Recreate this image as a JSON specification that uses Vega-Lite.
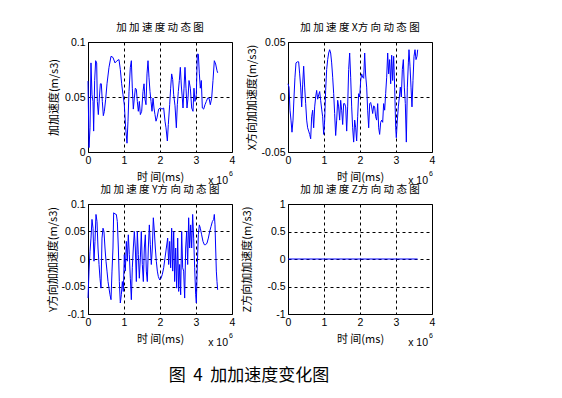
{
  "$schema": "https://vega.github.io/schema/vega-lite/v6.json",
  "background": "white",
  "autosize": {"type": "pad"},
  "padding": {"left": 46, "top": 22, "right": 5, "bottom": 5},
  "title": {"text": "图\u00a0\u00a04\u00a0\u00a0加加速度变化图", "orient": "bottom", "anchor": "middle", "font": "Noto Sans CJK SC", "fontSize": 17, "fontWeight": "normal", "color": "#000000", "offset": 19, "dx": 8},
  "config": {
    "view": {"stroke": "#000000", "strokeWidth": 1},
    "axis": {"grid": true, "gridColor": "#000000", "gridDash": [3, 3], "gridOpacity": 1, "gridWidth": 1, "domain": false, "ticks": false, "labelFont": "Liberation Sans", "labelFontSize": 10.5, "labelColor": "#000000", "labelFlush": false, "labelOverlap": false, "labelPadding": 3, "titleFont": "Noto Sans CJK SC", "titleFontSize": 11, "titleFontWeight": "normal", "titleColor": "#000000"},
    "title": {"font": "Noto Sans CJK SC", "fontSize": 10.5, "fontWeight": "normal", "color": "#000000", "offset": 4}
  },
  "datasets": {
    "p1": [
      {"t":0,"v":0.0645},{"t":0.028,"v":0.004},{"t":0.056,"v":0.022},{"t":0.083,"v":0.081},{"t":0.111,"v":0.052},{"t":0.139,"v":0.046},{"t":0.157,"v":0.019},{"t":0.185,"v":0.065},{"t":0.213,"v":0.083},{"t":0.241,"v":0.081},{"t":0.259,"v":0.046},{"t":0.287,"v":0.034},{"t":0.315,"v":0.049},{"t":0.343,"v":0.062},{"t":0.37,"v":0.062},{"t":0.398,"v":0.046},{"t":0.426,"v":0.033},{"t":0.454,"v":0.037},{"t":0.491,"v":0.048},{"t":0.528,"v":0.062},{"t":0.583,"v":0.077},{"t":0.639,"v":0.087},{"t":0.694,"v":0.086},{"t":0.75,"v":0.081},{"t":0.806,"v":0.083},{"t":0.861,"v":0.084},{"t":0.898,"v":0.075},{"t":0.935,"v":0.062},{"t":0.972,"v":0.052},{"t":1.009,"v":0.043},{"t":1.046,"v":0.022},{"t":1.083,"v":0.008},{"t":1.111,"v":0.028},{"t":1.139,"v":0.055},{"t":1.176,"v":0.077},{"t":1.204,"v":0.083},{"t":1.231,"v":0.058},{"t":1.259,"v":0.039},{"t":1.287,"v":0.049},{"t":1.315,"v":0.058},{"t":1.343,"v":0.057},{"t":1.37,"v":0.046},{"t":1.398,"v":0.037},{"t":1.426,"v":0.046},{"t":1.454,"v":0.034},{"t":1.491,"v":0.037},{"t":1.528,"v":0.055},{"t":1.556,"v":0.062},{"t":1.583,"v":0.048},{"t":1.611,"v":0.043},{"t":1.639,"v":0.071},{"t":1.667,"v":0.083},{"t":1.694,"v":0.068},{"t":1.722,"v":0.055},{"t":1.75,"v":0.046},{"t":1.778,"v":0.037},{"t":1.806,"v":0.049},{"t":1.833,"v":0.04},{"t":1.861,"v":0.034},{"t":1.889,"v":0.028},{"t":1.917,"v":0.031},{"t":1.963,"v":0.039},{"t":2.009,"v":0.04},{"t":2.056,"v":0.039},{"t":2.102,"v":0.04},{"t":2.139,"v":0.028},{"t":2.167,"v":0.022},{"t":2.204,"v":0.01},{"t":2.231,"v":0.025},{"t":2.269,"v":0.043},{"t":2.296,"v":0.058},{"t":2.324,"v":0.071},{"t":2.352,"v":0.066},{"t":2.38,"v":0.052},{"t":2.417,"v":0.042},{"t":2.454,"v":0.022},{"t":2.481,"v":0.043},{"t":2.509,"v":0.055},{"t":2.537,"v":0.065},{"t":2.565,"v":0.077},{"t":2.593,"v":0.06},{"t":2.62,"v":0.049},{"t":2.639,"v":0.04},{"t":2.667,"v":0.058},{"t":2.694,"v":0.077},{"t":2.722,"v":0.058},{"t":2.75,"v":0.04},{"t":2.778,"v":0.049},{"t":2.806,"v":0.065},{"t":2.843,"v":0.058},{"t":2.88,"v":0.04},{"t":2.917,"v":0.037},{"t":2.944,"v":0.058},{"t":2.972,"v":0.046},{"t":3.009,"v":0.052},{"t":3.037,"v":0.089},{"t":3.065,"v":0.089},{"t":3.093,"v":0.071},{"t":3.12,"v":0.058},{"t":3.148,"v":0.065},{"t":3.176,"v":0.04},{"t":3.213,"v":0.039},{"t":3.25,"v":0.043},{"t":3.287,"v":0.046},{"t":3.324,"v":0.049},{"t":3.361,"v":0.049},{"t":3.398,"v":0.043},{"t":3.435,"v":0.049},{"t":3.472,"v":0.065},{"t":3.509,"v":0.083},{"t":3.546,"v":0.08},{"t":3.583,"v":0.074},{"t":3.602,"v":0.072}
    ],
    "p2": [
      {"t":0,"v":0.012},{"t":0.028,"v":0.009},{"t":0.056,"v":-0.012},{"t":0.083,"v":-0.021},{"t":0.111,"v":-0.032},{"t":0.139,"v":-0.021},{"t":0.167,"v":0},{"t":0.194,"v":0.018},{"t":0.222,"v":0.031},{"t":0.259,"v":0.032},{"t":0.296,"v":0.032},{"t":0.324,"v":0.021},{"t":0.352,"v":0.009},{"t":0.38,"v":-0.009},{"t":0.407,"v":0.011},{"t":0.435,"v":0.028},{"t":0.463,"v":0.009},{"t":0.491,"v":-0.006},{"t":0.519,"v":-0.021},{"t":0.546,"v":-0.028},{"t":0.574,"v":-0.031},{"t":0.602,"v":-0.034},{"t":0.63,"v":-0.038},{"t":0.657,"v":-0.018},{"t":0.685,"v":-0.012},{"t":0.713,"v":-0.028},{"t":0.741,"v":-0.009},{"t":0.769,"v":0},{"t":0.796,"v":0.006},{"t":0.824,"v":-0.002},{"t":0.852,"v":0.002},{"t":0.88,"v":0.005},{"t":0.907,"v":-0.003},{"t":0.935,"v":-0.011},{"t":0.963,"v":-0.018},{"t":0.991,"v":-0.034},{"t":1.019,"v":-0.021},{"t":1.046,"v":0.006},{"t":1.074,"v":0.025},{"t":1.102,"v":0.034},{"t":1.13,"v":0.04},{"t":1.157,"v":0.043},{"t":1.185,"v":0.04},{"t":1.213,"v":0.031},{"t":1.241,"v":0.018},{"t":1.269,"v":0.003},{"t":1.296,"v":-0.015},{"t":1.324,"v":-0.035},{"t":1.352,"v":-0.021},{"t":1.38,"v":-0.003},{"t":1.407,"v":-0.009},{"t":1.435,"v":-0.021},{"t":1.463,"v":-0.003},{"t":1.491,"v":-0.012},{"t":1.519,"v":-0.025},{"t":1.546,"v":-0.006},{"t":1.574,"v":-0.006},{"t":1.602,"v":-0.009},{"t":1.63,"v":-0.031},{"t":1.657,"v":-0.009},{"t":1.685,"v":0.025},{"t":1.713,"v":0.04},{"t":1.741,"v":0.018},{"t":1.769,"v":-0.009},{"t":1.796,"v":-0.028},{"t":1.824,"v":-0.041},{"t":1.852,"v":-0.021},{"t":1.88,"v":-0.028},{"t":1.907,"v":-0.04},{"t":1.935,"v":-0.018},{"t":1.963,"v":0.003},{"t":1.991,"v":0},{"t":2.019,"v":0.015},{"t":2.046,"v":0.021},{"t":2.074,"v":0.018},{"t":2.102,"v":0.017},{"t":2.13,"v":0.04},{"t":2.157,"v":0.02},{"t":2.185,"v":0.009},{"t":2.213,"v":-0.012},{"t":2.241,"v":-0.028},{"t":2.269,"v":-0.006},{"t":2.296,"v":-0.005},{"t":2.324,"v":-0.009},{"t":2.352,"v":-0.015},{"t":2.38,"v":-0.008},{"t":2.407,"v":-0.009},{"t":2.435,"v":-0.018},{"t":2.463,"v":-0.021},{"t":2.491,"v":-0.006},{"t":2.519,"v":-0.028},{"t":2.546,"v":-0.034},{"t":2.574,"v":-0.023},{"t":2.602,"v":-0.021},{"t":2.63,"v":-0.023},{"t":2.657,"v":-0.006},{"t":2.685,"v":-0.012},{"t":2.713,"v":0.003},{"t":2.741,"v":0.018},{"t":2.769,"v":0.04},{"t":2.796,"v":0.021},{"t":2.824,"v":0.034},{"t":2.852,"v":0.012},{"t":2.88,"v":0.038},{"t":2.907,"v":0.015},{"t":2.935,"v":0.037},{"t":2.963,"v":0.009},{"t":2.991,"v":-0.028},{"t":3.009,"v":-0.037},{"t":3.037,"v":-0.021},{"t":3.065,"v":-0.009},{"t":3.093,"v":0},{"t":3.12,"v":0.009},{"t":3.148,"v":0},{"t":3.176,"v":0.025},{"t":3.204,"v":0.034},{"t":3.231,"v":0.009},{"t":3.259,"v":-0.006},{"t":3.287,"v":-0.041},{"t":3.315,"v":0.009},{"t":3.343,"v":0.031},{"t":3.361,"v":0.043},{"t":3.389,"v":0.028},{"t":3.417,"v":0.009},{"t":3.444,"v":-0.009},{"t":3.472,"v":0.015},{"t":3.5,"v":0.037},{"t":3.528,"v":0.043},{"t":3.556,"v":0.034},{"t":3.583,"v":0.037},{"t":3.602,"v":0.043}
    ],
    "p3": [
      {"t":0,"v":-0.071},{"t":0.028,"v":-0.022},{"t":0.056,"v":0.014},{"t":0.083,"v":0.038},{"t":0.111,"v":0.072},{"t":0.139,"v":0.056},{"t":0.167,"v":-0.004},{"t":0.194,"v":0.032},{"t":0.222,"v":0.081},{"t":0.25,"v":0.068},{"t":0.278,"v":0.02},{"t":0.306,"v":-0.01},{"t":0.333,"v":-0.035},{"t":0.361,"v":-0.053},{"t":0.389,"v":0.038},{"t":0.417,"v":0.056},{"t":0.444,"v":0.05},{"t":0.472,"v":0.02},{"t":0.5,"v":-0.004},{"t":0.528,"v":-0.022},{"t":0.556,"v":-0.041},{"t":0.583,"v":-0.053},{"t":0.611,"v":-0.065},{"t":0.639,"v":-0.074},{"t":0.667,"v":-0.022},{"t":0.694,"v":0.02},{"t":0.713,"v":0.084},{"t":0.75,"v":0.082},{"t":0.787,"v":0.081},{"t":0.815,"v":0.068},{"t":0.843,"v":0.02},{"t":0.87,"v":-0.041},{"t":0.898,"v":-0.08},{"t":0.926,"v":-0.065},{"t":0.954,"v":-0.041},{"t":0.981,"v":-0.059},{"t":1.009,"v":0.008},{"t":1.037,"v":-0.022},{"t":1.065,"v":0.032},{"t":1.093,"v":-0.004},{"t":1.12,"v":0.044},{"t":1.148,"v":0.008},{"t":1.176,"v":-0.035},{"t":1.204,"v":-0.074},{"t":1.231,"v":-0.016},{"t":1.259,"v":0.02},{"t":1.287,"v":0.05},{"t":1.315,"v":0.02},{"t":1.343,"v":-0.041},{"t":1.37,"v":0.05},{"t":1.398,"v":0.008},{"t":1.426,"v":-0.035},{"t":1.454,"v":0.002},{"t":1.481,"v":0.05},{"t":1.509,"v":-0.01},{"t":1.537,"v":-0.041},{"t":1.565,"v":0.02},{"t":1.593,"v":0.044},{"t":1.62,"v":-0.022},{"t":1.648,"v":-0.041},{"t":1.676,"v":0.02},{"t":1.704,"v":0.062},{"t":1.731,"v":0.026},{"t":1.759,"v":-0.01},{"t":1.787,"v":0.02},{"t":1.815,"v":0.075},{"t":1.843,"v":0.05},{"t":1.87,"v":0.02},{"t":1.898,"v":-0.004},{"t":1.926,"v":-0.022},{"t":1.954,"v":-0.032},{"t":1.991,"v":-0.038},{"t":2.028,"v":-0.035},{"t":2.065,"v":-0.028},{"t":2.102,"v":-0.016},{"t":2.139,"v":0.002},{"t":2.176,"v":0.02},{"t":2.213,"v":0.038},{"t":2.241,"v":-0.01},{"t":2.269,"v":0.032},{"t":2.296,"v":-0.016},{"t":2.324,"v":0.056},{"t":2.352,"v":-0.022},{"t":2.38,"v":0.05},{"t":2.407,"v":-0.041},{"t":2.435,"v":0.02},{"t":2.463,"v":-0.053},{"t":2.491,"v":0.038},{"t":2.519,"v":-0.059},{"t":2.546,"v":-0.01},{"t":2.574,"v":-0.065},{"t":2.602,"v":0.05},{"t":2.63,"v":-0.016},{"t":2.657,"v":-0.022},{"t":2.685,"v":-0.071},{"t":2.713,"v":0.02},{"t":2.741,"v":0.05},{"t":2.769,"v":-0.01},{"t":2.796,"v":0.075},{"t":2.824,"v":0.02},{"t":2.852,"v":0.062},{"t":2.88,"v":0.02},{"t":2.907,"v":0.081},{"t":2.935,"v":0.038},{"t":2.963,"v":-0.016},{"t":2.991,"v":-0.065},{"t":3.009,"v":-0.08},{"t":3.037,"v":-0.01},{"t":3.065,"v":0.044},{"t":3.093,"v":0.062},{"t":3.12,"v":0.056},{"t":3.157,"v":0.044},{"t":3.194,"v":0.032},{"t":3.231,"v":0.026},{"t":3.269,"v":0.026},{"t":3.306,"v":0.029},{"t":3.343,"v":0.038},{"t":3.38,"v":0.05},{"t":3.417,"v":0.059},{"t":3.454,"v":0.068},{"t":3.491,"v":0.072},{"t":3.509,"v":0.081},{"t":3.528,"v":0.062},{"t":3.546,"v":0.02},{"t":3.565,"v":-0.022},{"t":3.583,"v":-0.041},{"t":3.602,"v":-0.056}
    ],
    "p4": [{"t":0,"v":0},{"t":3.6,"v":0}],
    "one": [{"k":1}]
  },
  "columns": 2,
  "spacing": {"row": 52, "column": 56},
  "bounds": "flush",
  "concat": [
    {
      "width": 144, "height": 110,
      "title": {"text": "加 加 速 度 动 态 图"},
      "encoding": {
        "x": {"type": "quantitative", "scale": {"domain": [0, 4], "nice": false, "zero": false}, "axis": {"values": [0, 1, 2, 3, 4], "tickCount": 5, "format": "d", "title": "时 间(ms)", "titlePadding": 6}},
        "y": {"type": "quantitative", "scale": {"domain": [0, 0.1], "nice": false, "zero": false}, "axis": {"values": [0, 0.05, 0.1], "tickCount": 3, "labelExpr": "datum.value < 0 ? '-' + format(-datum.value, '~g') : format(datum.value, '~g')", "title": "加加速度(m/s3)", "titlePadding": 5}}
      },
      "layer": [
        {
          "data": {"name": "p1"},
          "mark": {"type": "line", "color": "#0000ff", "strokeWidth": 1},
          "encoding": {"x": {"field": "t"}, "y": {"field": "v"}}
        },
        {
          "data": {"name": "one"},
          "mark": {"type": "text", "align": "right", "baseline": "middle", "dx": -4, "font": "Liberation Sans", "fontSize": 10.5, "color": "#000000"},
          "encoding": {"x": {"datum": 4}, "y": {"datum": -0.0268}, "text": {"value": "x 10"}}
        },
        {
          "data": {"name": "one"},
          "mark": {"type": "text", "align": "left", "baseline": "middle", "dx": -3, "dy": -7, "font": "Liberation Sans", "fontSize": 7, "color": "#000000"},
          "encoding": {"x": {"datum": 4}, "y": {"datum": -0.0268}, "text": {"value": "6"}}
        }
      ]
    },
    {
      "width": 144, "height": 110,
      "title": {"text": "加 加 速 度 X方 向 动 态 图"},
      "encoding": {
        "x": {"type": "quantitative", "scale": {"domain": [0, 4], "nice": false, "zero": false}, "axis": {"values": [0, 1, 2, 3, 4], "tickCount": 5, "format": "d", "title": "时 间(ms)", "titlePadding": 6}},
        "y": {"type": "quantitative", "scale": {"domain": [-0.05, 0.05], "nice": false, "zero": false}, "axis": {"values": [-0.05, 0, 0.05], "tickCount": 3, "labelExpr": "datum.value < 0 ? '-' + format(-datum.value, '~g') : format(datum.value, '~g')", "title": "X方向加加速度(m/s3)", "titlePadding": 4}}
      },
      "layer": [
        {
          "data": {"name": "p2"},
          "mark": {"type": "line", "color": "#0000ff", "strokeWidth": 1},
          "encoding": {"x": {"field": "t"}, "y": {"field": "v"}}
        },
        {
          "data": {"name": "one"},
          "mark": {"type": "text", "align": "right", "baseline": "middle", "dx": -4, "font": "Liberation Sans", "fontSize": 10.5, "color": "#000000"},
          "encoding": {"x": {"datum": 4}, "y": {"datum": -0.0768}, "text": {"value": "x 10"}}
        },
        {
          "data": {"name": "one"},
          "mark": {"type": "text", "align": "left", "baseline": "middle", "dx": -3, "dy": -7, "font": "Liberation Sans", "fontSize": 7, "color": "#000000"},
          "encoding": {"x": {"datum": 4}, "y": {"datum": -0.0768}, "text": {"value": "6"}}
        }
      ]
    },
    {
      "width": 144, "height": 110,
      "title": {"text": "加 加 速 度 Y方 向 动 态 图"},
      "encoding": {
        "x": {"type": "quantitative", "scale": {"domain": [0, 4], "nice": false, "zero": false}, "axis": {"values": [0, 1, 2, 3, 4], "tickCount": 5, "format": "d", "title": "时 间(ms)", "titlePadding": 6}},
        "y": {"type": "quantitative", "scale": {"domain": [-0.1, 0.1], "nice": false, "zero": false}, "axis": {"values": [-0.1, -0.05, 0, 0.05, 0.1], "tickCount": 5, "labelExpr": "datum.value < 0 ? '-' + format(-datum.value, '~g') : format(datum.value, '~g')", "title": "Y方向加加速度(m/s3)", "titlePadding": 3}}
      },
      "layer": [
        {
          "data": {"name": "p3"},
          "mark": {"type": "line", "color": "#0000ff", "strokeWidth": 1},
          "encoding": {"x": {"field": "t"}, "y": {"field": "v"}}
        },
        {
          "data": {"name": "one"},
          "mark": {"type": "text", "align": "right", "baseline": "middle", "dx": -4, "font": "Liberation Sans", "fontSize": 10.5, "color": "#000000"},
          "encoding": {"x": {"datum": 4}, "y": {"datum": -0.1536}, "text": {"value": "x 10"}}
        },
        {
          "data": {"name": "one"},
          "mark": {"type": "text", "align": "left", "baseline": "middle", "dx": -3, "dy": -7, "font": "Liberation Sans", "fontSize": 7, "color": "#000000"},
          "encoding": {"x": {"datum": 4}, "y": {"datum": -0.1536}, "text": {"value": "6"}}
        }
      ]
    },
    {
      "width": 144, "height": 110,
      "title": {"text": "加 加 速 度 Z方 向 动 态 图"},
      "encoding": {
        "x": {"type": "quantitative", "scale": {"domain": [0, 4], "nice": false, "zero": false}, "axis": {"values": [0, 1, 2, 3, 4], "tickCount": 5, "format": "d", "title": "时 间(ms)", "titlePadding": 6}},
        "y": {"type": "quantitative", "scale": {"domain": [-1, 1], "nice": false, "zero": false}, "axis": {"values": [-1, -0.5, 0, 0.5, 1], "tickCount": 5, "labelExpr": "datum.value < 0 ? '-' + format(-datum.value, '~g') : format(datum.value, '~g')", "title": "Z方向加加速度(m/s3)", "titlePadding": 14}}
      },
      "layer": [
        {
          "data": {"name": "p4"},
          "mark": {"type": "line", "color": "#0000ff", "strokeWidth": 1},
          "encoding": {"x": {"field": "t"}, "y": {"field": "v"}}
        },
        {
          "data": {"name": "one"},
          "mark": {"type": "text", "align": "right", "baseline": "middle", "dx": -4, "font": "Liberation Sans", "fontSize": 10.5, "color": "#000000"},
          "encoding": {"x": {"datum": 4}, "y": {"datum": -1.536}, "text": {"value": "x 10"}}
        },
        {
          "data": {"name": "one"},
          "mark": {"type": "text", "align": "left", "baseline": "middle", "dx": -3, "dy": -7, "font": "Liberation Sans", "fontSize": 7, "color": "#000000"},
          "encoding": {"x": {"datum": 4}, "y": {"datum": -1.536}, "text": {"value": "6"}}
        }
      ]
    }
  ]
}
